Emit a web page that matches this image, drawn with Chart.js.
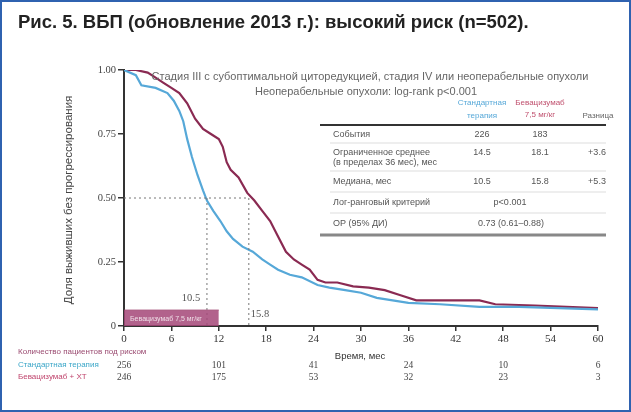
<!DOCTYPE html>
<html>
<head>
<meta charset="utf-8">
<script src="https://cdn.jsdelivr.net/npm/chart.js@4.4.1/dist/chart.umd.min.js"></script>
<style>
  body { margin: 0; background: #fff; }
  #wrap { position: relative; width: 631px; height: 412px; overflow: hidden; }
  #frame { position: absolute; left: 0; top: 0; width: 631px; height: 412px; box-sizing: border-box;
           border: 2px solid #2f62b0; pointer-events: none; }
  #title { position: absolute; left: 18px; top: 11px; font: bold 18.5px "Liberation Sans", Arial, sans-serif; color: #222; }
  canvas { position: absolute; left: 0; top: 0; }
</style>
</head>
<body>
<div id="wrap">
  <canvas id="myChart" width="631" height="412"></canvas>
  <div id="title">Рис. 5. ВБП (обновление 2013 г.): высокий риск (n=502).</div>
  <div id="frame"></div>
</div>
<script>
// data
var stdMonths = [0, 1.5, 2.2, 4, 5.5, 6.3, 7, 7.5, 8, 8.6, 9.3, 10, 10.5, 11.3, 12.2, 13, 13.8, 15, 16.3, 17.5, 18.5, 19.5, 21, 22.5, 24.5, 26, 28, 30, 32, 34, 36, 40, 45, 50, 55, 60];
var stdSurv   = [1.0, 0.98, 0.94, 0.93, 0.91, 0.88, 0.84, 0.80, 0.73, 0.66, 0.59, 0.53, 0.49, 0.45, 0.41, 0.37, 0.34, 0.31, 0.29, 0.26, 0.24, 0.22, 0.20, 0.19, 0.16, 0.15, 0.14, 0.13, 0.11, 0.10, 0.09, 0.085, 0.075, 0.075, 0.07, 0.065];

var bevMonths = [0, 1.5, 3, 4, 5, 6, 7, 8, 9, 10, 11, 12, 12.5, 13, 13.5, 14.5, 15.6, 16.5, 17.5, 18.5, 19.5, 20.5, 21.5, 22.5, 23.5, 24.5, 25.5, 27, 29, 31, 33, 35, 37, 45, 47, 52, 56, 60];
var bevSurv   = [1.0, 1.0, 0.99, 0.97, 0.95, 0.93, 0.91, 0.87, 0.81, 0.77, 0.75, 0.73, 0.70, 0.64, 0.61, 0.58, 0.52, 0.49, 0.45, 0.41, 0.35, 0.29, 0.26, 0.24, 0.22, 0.18, 0.17, 0.17, 0.155, 0.15, 0.14, 0.12, 0.10, 0.10, 0.085, 0.08, 0.075, 0.07];

var medianStd = 10.5;
var medianBev = 15.8;
var bevPeriod = [0, 12];     // bevacizumab treatment period, months
var bevBarHeight = 0.062;

var yTickLabels = ['0', '0.25', '0.50', '0.75', '1.00'];

var riskMonths = [0, 12, 24, 36, 48, 60];
var riskStd = [256, 101, 41, 24, 10, 6];
var riskBev = [246, 175, 53, 32, 23, 3];

var blueColor = '#56a8d8';
var redColor = '#8a2a52';

function pairs(xs, ys) {
    var out = [];
    for (var i = 0; i < xs.length; i++) out.push({x: xs[i], y: ys[i]});
    return out;
}

// extra text: headers, table, risk table
var textPlugin = {
    id: 'textPlugin',
    afterDraw: function (chart) {
        var ctx = chart.ctx;
        var xs = chart.scales.x;
        ctx.save();

        // y axis title
        ctx.fillStyle = '#444';
        ctx.font = '11.5px "Liberation Sans", Arial, sans-serif';
        ctx.textAlign = 'center';
        ctx.textBaseline = 'middle';
        ctx.translate(69, 200);
        ctx.rotate(-Math.PI / 2);
        ctx.fillText('Доля выживших без прогрессирования', 0, 0);
        ctx.restore();
        ctx.save();

        // subtitle over the plot
        ctx.fillStyle = '#666';
        ctx.font = '11px "Liberation Sans", Arial, sans-serif';
        ctx.textAlign = 'center';
        ctx.textBaseline = 'middle';
        ctx.fillText('Стадия III с субоптимальной циторедукцией, стадия IV или неоперабельные опухоли', 370, 77);
        ctx.fillText('Неоперабельные опухоли: log-rank p<0.001', 366, 92);

        // median labels
        ctx.fillStyle = '#555';
        ctx.font = '10.5px "Liberation Serif", serif';
        ctx.fillText(String(medianStd), 191, 298);
        ctx.fillText(String(medianBev), 260, 314);

        // bar label
        ctx.fillStyle = 'rgba(255,255,255,0.8)';
        ctx.font = '7px "Liberation Sans", Arial, sans-serif';
        ctx.textAlign = 'left';
        ctx.fillText('Бевацизумаб 7,5 мг/кг', 130, 319);

        // x axis title
        ctx.fillStyle = '#333';
        ctx.font = '9.5px "Liberation Sans", Arial, sans-serif';
        ctx.textAlign = 'center';
        ctx.fillText('Время, мес', 360, 356);

        // results table
        ctx.font = '8px "Liberation Sans", Arial, sans-serif';
        ctx.fillStyle = blueColor;
        ctx.fillText('Стандартная', 482, 103);
        ctx.fillText('терапия', 482, 116);
        ctx.fillStyle = '#c0506e';
        ctx.fillText('Бевацизумаб', 540, 103);
        ctx.fillText('7,5 мг/кг', 540, 115);
        ctx.fillStyle = '#666';
        ctx.fillText('Разница', 598, 116);

        ctx.strokeStyle = '#333';
        ctx.lineWidth = 2;
        ctx.beginPath(); ctx.moveTo(320, 125); ctx.lineTo(606, 125); ctx.stroke();
        ctx.strokeStyle = '#888';
        ctx.lineWidth = 3;
        ctx.beginPath(); ctx.moveTo(320, 235); ctx.lineTo(606, 235); ctx.stroke();
        ctx.strokeStyle = '#ddd';
        ctx.lineWidth = 1;
        [143, 171, 192, 213].forEach(function (yy) {
            ctx.beginPath(); ctx.moveTo(330, yy); ctx.lineTo(606, yy); ctx.stroke();
        });

        ctx.font = '9px "Liberation Sans", Arial, sans-serif';
        ctx.fillStyle = '#555';
        ctx.textAlign = 'left';
        ctx.fillText('События', 333, 135);
        ctx.fillText('Ограниченное среднее', 333, 153);
        ctx.fillText('(в пределах 36 мес), мес', 333, 163);
        ctx.fillText('Медиана, мес', 333, 182);
        ctx.fillText('Лог-ранговый критерий', 333, 203);
        ctx.fillText('ОР (95% ДИ)', 333, 224);
        ctx.textAlign = 'center';
        ctx.fillText('226', 482, 135);
        ctx.fillText('183', 540, 135);
        ctx.fillText('14.5', 482, 153);
        ctx.fillText('18.1', 540, 153);
        ctx.fillText('+3.6', 597, 153);
        ctx.fillText(String(medianStd), 482, 182);
        ctx.fillText(String(medianBev), 540, 182);
        ctx.fillText('+5.3', 597, 182);
        ctx.fillText('p<0.001', 510, 203);
        ctx.fillText('0.73 (0.61–0.88)', 511, 224);

        // risk table
        ctx.font = '8px "Liberation Sans", Arial, sans-serif';
        ctx.textAlign = 'left';
        ctx.fillStyle = '#9a4a70';
        ctx.fillText('Количество пациентов под риском', 18, 352);
        ctx.fillStyle = '#3aa6c8';
        ctx.fillText('Стандартная терапия', 18, 365);
        ctx.fillStyle = '#c0466e';
        ctx.fillText('Бевацизумаб + ХТ', 18, 377);
        ctx.textAlign = 'center';
        ctx.font = '9.5px "Liberation Serif", serif';
        for (var i = 0; i < riskMonths.length; i++) {
            var px = xs.getPixelForValue(riskMonths[i]);
            ctx.fillStyle = '#444';
            ctx.fillText(String(riskStd[i]), px, 365);
            ctx.fillText(String(riskBev[i]), px, 377);
        }
        ctx.restore();
    }
};

var ctx = document.getElementById('myChart');
var myChart = new Chart(ctx, {
    type: 'line',
    data: {
        datasets: [
            {
                label: 'bar',
                data: [{x: bevPeriod[0], y: bevBarHeight}, {x: bevPeriod[1], y: bevBarHeight}],
                borderColor: '#a04874',
                borderWidth: 1,
                backgroundColor: 'rgba(165,70,120,0.85)',
                fill: 'origin',
                pointRadius: 0
            },
            {
                label: 'half',
                data: [{x: 0, y: 0.5}, {x: medianBev, y: 0.5}],
                borderColor: '#777',
                borderWidth: 1,
                borderDash: [2, 3],
                pointRadius: 0
            },
            {
                label: 'medStd',
                data: [{x: medianStd, y: 0.5}, {x: medianStd, y: 0}],
                borderColor: '#777',
                borderWidth: 1,
                borderDash: [2, 3],
                pointRadius: 0
            },
            {
                label: 'medBev',
                data: [{x: medianBev, y: 0.5}, {x: medianBev, y: 0}],
                borderColor: '#777',
                borderWidth: 1,
                borderDash: [2, 3],
                pointRadius: 0
            },
            {
                label: 'Стандартная терапия',
                data: pairs(stdMonths, stdSurv),
                borderColor: blueColor,
                borderWidth: 2.2,
                pointRadius: 0,
                tension: 0
            },
            {
                label: 'Бевацизумаб',
                data: pairs(bevMonths, bevSurv),
                borderColor: redColor,
                borderWidth: 2.2,
                pointRadius: 0,
                tension: 0
            }
        ]
    },
    options: {
        animation: false,
        responsive: false,
        layout: { padding: { left: 0, right: 33, top: 70, bottom: 0 } },
        plugins: { legend: { display: false }, tooltip: { enabled: false } },
        scales: {
            x: {
                type: 'linear',
                min: 0, max: 60,
                afterFit: function (s) { s.height = 86; },
                ticks: { stepSize: 6, color: '#333', font: { family: '"Liberation Serif", serif', size: 11 }, padding: 2, maxRotation: 0 },
                grid: { display: true, drawOnChartArea: false, drawTicks: true, tickLength: 5, color: '#333', lineWidth: 1.5 },
                border: { display: true, color: '#333', width: 2 }
            },
            y: {
                min: 0, max: 1,
                afterFit: function (s) { s.width = 124; },
                ticks: {
                    stepSize: 0.25, color: '#444', padding: 2,
                    font: { family: '"Liberation Serif", serif', size: 10.5 },
                    callback: function (v, i) { return yTickLabels[i]; }
                },
                grid: { display: true, drawOnChartArea: false, drawTicks: true, tickLength: 6, color: '#333', lineWidth: 1.5 },
                border: { display: true, color: '#333', width: 2 }
            }
        }
    },
    plugins: [textPlugin]
});
</script>
</body>
</html>
